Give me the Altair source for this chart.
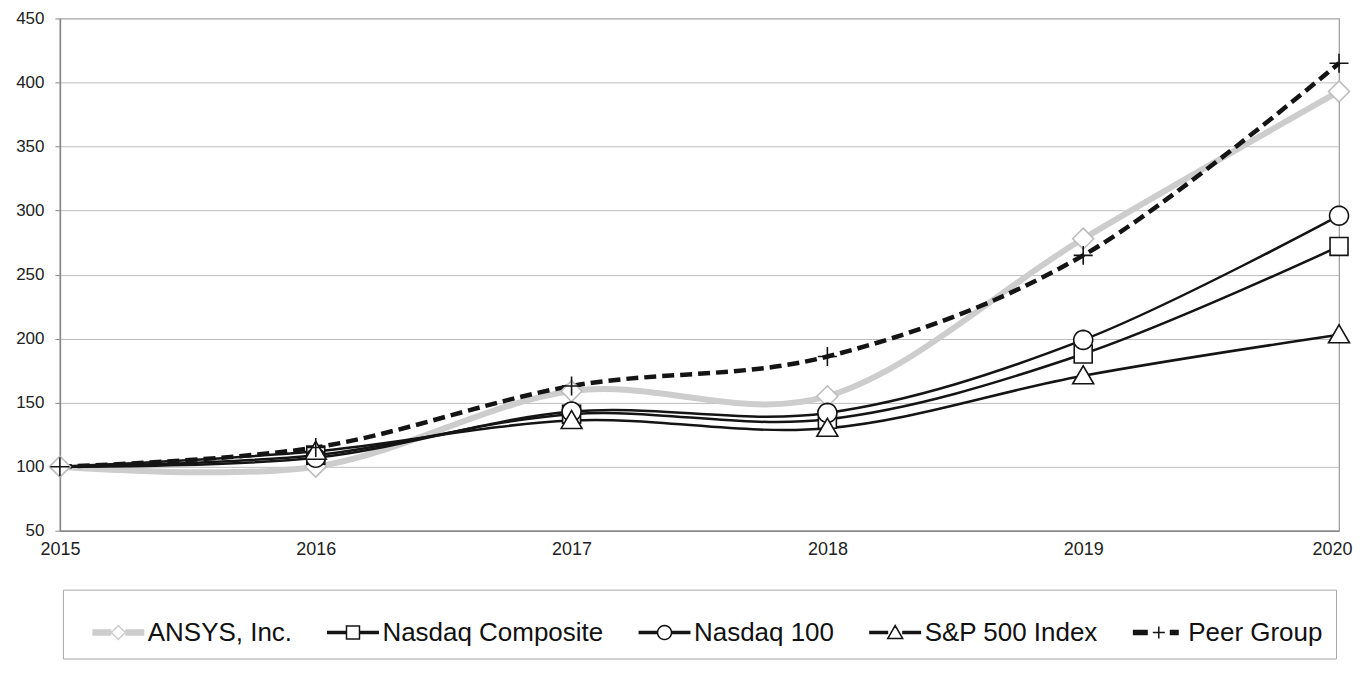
import math
import altair as alt
import pandas as pd

years = [2015, 2016, 2017, 2018, 2019, 2020]
series_names = ["ANSYS, Inc.", "Nasdaq Composite", "Nasdaq 100", "S&P 500 Index", "Peer Group"]
ansys = [100, 100, 159, 155, 278, 393]
nasdaq_comp = [100, 109, 141, 137, 188, 272]
nasdaq_100 = [100, 107, 143, 142, 199, 296]
sp500 = [100, 112, 136, 130, 171, 203]
peer = [100, 115, 163, 186, 265, 415]

marker_keys = [n + " (marker)" for n in series_names]
rows = []
for name, mk, vals in zip(series_names, marker_keys,
                          [ansys, nasdaq_comp, nasdaq_100, sp500, peer]):
    for yr, v in zip(years, vals):
        rows.append({"year": yr, "value": v, "series": name, "mk": mk})
df = pd.DataFrame(rows)

# ---------------- styles ----------------
GRAY = "#cdcdcd"
BLACK = "#141414"
line_colors = [GRAY, BLACK, BLACK, BLACK, BLACK]
line_widths = [6, 2.5, 2.5, 2.5, 4.5]
line_dashes = [None, None, None, None, [12, 6]]
marker_colors = ["#bcbcbc", BLACK, BLACK, BLACK, BLACK]


def polygon_circle(cx, r, n=32):
    pts = [(cx + r * math.cos(2 * math.pi * i / n), r * math.sin(2 * math.pi * i / n))
           for i in range(n)]
    return "M" + "L".join(f"{x:.3f},{y:.3f}" for x, y in pts) + "Z"


def band(x0, x1, ys):
    return "".join(f"M{x0:.2f},{y}H{x1:.2f}" for y in ys)


# plot markers (units of 10 px, point size 400)
marker_paths = [
    "M-1.05,0L0,-1.05L1.05,0L0,1.05Z",
    "M-0.9,-0.9H0.9V0.9H-0.9Z",
    polygon_circle(0, 0.95),
    "M-1.05,0.8L0,-1.0L1.05,0.8Z",
    "M-0.95,0H0.95M0,-0.95V0.95",
]

# legend symbols (units of 10 px, drawn right of the nominal symbol centre)
s0 = 0.35
mc = s0 + 2.6
s1 = s0 + 5.2
gray_band = [-0.25, -0.15, -0.05, 0.05, 0.15, 0.25]
black_band = [-0.1, 0, 0.1]
peer_band = [-0.2, -0.1, 0, 0.1, 0.2]
legend_paths = [
    band(s0, mc - 0.7, gray_band) + band(mc + 0.7, s1, gray_band)
    + f"M{mc-0.7:.2f},0L{mc:.2f},-0.7L{mc+0.7:.2f},0L{mc:.2f},0.7Z",
    band(s0, mc - 0.65, black_band) + band(mc + 0.65, s1, black_band)
    + f"M{mc-0.65:.2f},-0.65H{mc+0.65:.2f}V0.65H{mc-0.65:.2f}Z",
    band(s0, mc - 0.7, black_band) + band(mc + 0.7, s1, black_band)
    + polygon_circle(mc, 0.7, 24),
    band(s0, mc - 0.7, black_band) + band(mc + 0.7, s1, black_band)
    + f"M{mc-0.75:.2f},0.6L{mc:.2f},-0.7L{mc+0.75:.2f},0.6Z",
    band(s0, s0 + 1.5, peer_band)
    + f"M{mc-0.6:.2f},0H{mc+0.6:.2f}M{mc:.2f},-0.6V0.6"
    + band(s0 + 3.7, s0 + 4.6, peer_band),
]

FONT = "Liberation Sans"
domain_all = series_names + marker_keys


def build(shift_last_label):
    legend = alt.Legend(
        values=series_names, orient="none", legendX=3, legendY=572,
        direction="horizontal", columns=5, padding=13,
        title=" ", titleFontSize=2, titlePadding=15,
        strokeColor="#a8a8a8", labelFontSize=26, labelFont=FONT, labelColor="#111",
        symbolSize=400, symbolStrokeWidth=1.5, symbolOpacity=1,
        labelOffset=46, columnPadding=18, labelLimit=600,
    )
    x_axis_kw = dict(
        values=years, format="d", title="", grid=False, ticks=False,
        labelFontSize=18, labelFont=FONT, labelColor="#222", labelPadding=10,
        domainColor="#888", domainWidth=1.5, labelFlush=False,
    )
    if shift_last_label:
        # keep the last year label inside the page
        x_axis_kw["labelAlign"] = {
            "condition": {"test": "datum.value == 2020", "value": "right"},
            "value": "center",
        }
        x_axis_kw["labelOffset"] = {
            "condition": {"test": "datum.value == 2020", "value": 13},
            "value": 0,
        }
    x_enc = alt.X(
        "year:Q",
        scale=alt.Scale(domain=[2015, 2020], nice=False, zero=False),
        axis=alt.Axis(**x_axis_kw),
    )
    y_enc = alt.Y(
        "value:Q",
        scale=alt.Scale(domain=[50, 450], nice=False, zero=False),
        axis=alt.Axis(
            values=list(range(50, 451, 50)), title="", grid=True,
            gridColor="#bdbdbd", gridWidth=1, tickSize=5, tickColor="#888",
            labelFontSize=17, labelFont=FONT, labelColor="#222", labelPadding=11,
            domainColor="#888", domainWidth=1.5,
        ),
    )

    layers = []
    for name, col, w, dash in zip(series_names, line_colors, line_widths, line_dashes):
        mark_kw = dict(interpolate="cardinal", color=col, strokeWidth=w)
        if dash:
            mark_kw["strokeDash"] = dash
        layers.append(
            alt.Chart(df).transform_filter(alt.datum.series == name)
            .mark_line(**mark_kw).encode(x=x_enc, y=y_enc)
        )

    # in the original, the black index markers are not drawn at the 2015 base point
    points = alt.Chart(df).transform_filter(
        (alt.datum.year > 2015)
        | (alt.datum.series == "ANSYS, Inc.")
        | (alt.datum.series == "Peer Group")
    ).mark_point(
        filled=False, fill="white", strokeWidth=1.6, size=400, opacity=1
    ).encode(
        x="year:Q",
        y="value:Q",
        stroke=alt.Stroke(
            "mk:N", title=" ",
            scale=alt.Scale(domain=domain_all, range=line_colors + marker_colors),
            legend=legend,
        ),
        shape=alt.Shape(
            "mk:N", title=" ",
            scale=alt.Scale(domain=domain_all, range=legend_paths + marker_paths),
            legend=legend,
        ),
    )
    layers.append(points)

    return alt.layer(*layers).properties(
        width=1281, height=513,
        padding={"left": 7, "top": 1, "right": 0, "bottom": 0},
    ).configure_view(stroke="#9a9a9a", strokeWidth=1.2)


try:
    chart = build(True)
    chart.to_dict()
except Exception:
    chart = build(False)

chart.save("out.html", embed_options={"renderer": "svg", "actions": False})
